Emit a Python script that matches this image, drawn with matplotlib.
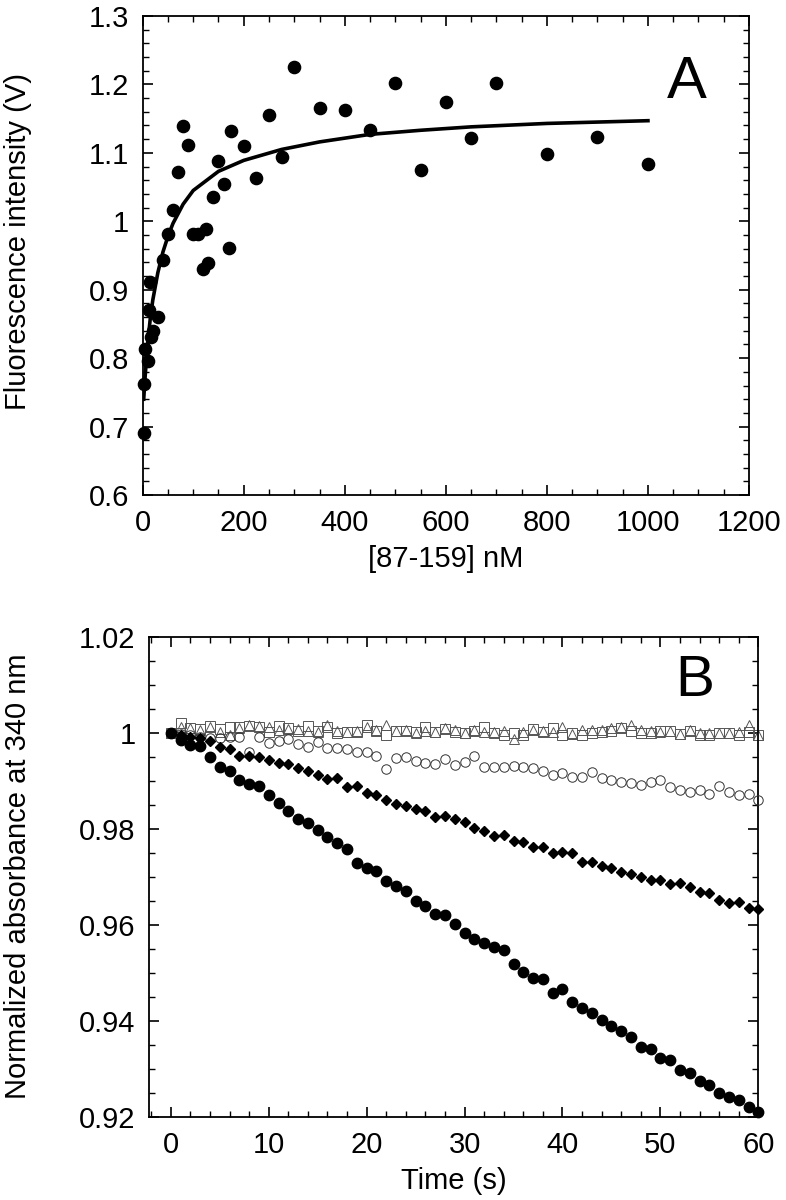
import matplotlib
matplotlib.use('Agg')
import matplotlib.pyplot as plt
from matplotlib.ticker import MultipleLocator, FuncFormatter

plt.rcParams['font.family'] = ['Liberation Sans', 'DejaVu Sans']

# ---------------- Panel A data ----------------
conc_nM = [3, 3, 5, 10, 13, 15, 16, 21, 30, 40,
           50, 60, 70, 80, 90, 100, 110, 120, 125, 130,
           140, 150, 160, 170, 175, 200, 225, 250, 275, 300,
           350, 400, 450, 500, 550, 600, 650, 700, 800, 900,
           1000]
fluor_V = [0.691, 0.762, 0.813, 0.796, 0.871, 0.911, 0.831, 0.840, 0.860, 0.944,
           0.981, 1.016, 1.072, 1.139, 1.112, 0.981, 0.981, 0.930, 0.989, 0.939,
           1.036, 1.088, 1.054, 0.961, 1.132, 1.110, 1.063, 1.155, 1.094, 1.226,
           1.166, 1.163, 1.134, 1.202, 1.075, 1.175, 1.122, 1.202, 1.099, 1.123,
           1.084]
fit_x = [2, 5, 10, 15, 20, 30, 40, 50, 60, 80, 100, 150, 200, 275, 350, 450, 550, 650, 800, 1000]
fit_y = [0.740, 0.775, 0.822, 0.858, 0.885, 0.925, 0.955, 0.978, 0.997, 1.025,
         1.045, 1.073, 1.089, 1.105, 1.116, 1.127, 1.133, 1.138, 1.143, 1.147]

# ---------------- Panel B data ----------------
time_s = list(range(0, 61))
filled_circles = [1.0, 0.99848, 0.99744, 0.9972, 0.99487, 0.99292, 0.99208, 0.99015, 0.98931, 0.98896,
                  0.98696, 0.98529, 0.98375, 0.98196, 0.98112, 0.97973, 0.97833, 0.97696, 0.97577, 0.97279,
                  0.97175, 0.97119, 0.9691, 0.96806, 0.96702, 0.96494, 0.96396, 0.96223, 0.96202, 0.96008,
                  0.9582, 0.9570, 0.9562, 0.9553, 0.9548, 0.95181, 0.95021, 0.94883, 0.94862, 0.94571,
                  0.94654, 0.94396, 0.94258, 0.94167, 0.94015, 0.93896, 0.93792, 0.93667, 0.93458, 0.93404,
                  0.93229, 0.93181, 0.92973, 0.92904, 0.9275, 0.92654, 0.92488, 0.92417, 0.92348, 0.92208,
                  0.92104]
filled_diamonds = [1.0, 0.9995, 0.9991, 0.99882, 0.99827, 0.99696, 0.9966, 0.99515, 0.99515, 0.995,
                   0.99431, 0.99362, 0.99341, 0.99258, 0.99208, 0.99119, 0.99029, 0.9905, 0.98862, 0.98896,
                   0.9875, 0.98702, 0.98598, 0.98508, 0.98479, 0.98404, 0.98375, 0.9825, 0.98271, 0.98202,
                   0.98146, 0.98008, 0.97958, 0.97848, 0.97869, 0.97744, 0.97729, 0.97625, 0.97625, 0.97487,
                   0.97508, 0.97487, 0.97313, 0.973, 0.97223, 0.97188, 0.97104, 0.9705, 0.96987, 0.96931,
                   0.96931, 0.96842, 0.96862, 0.96779, 0.96688, 0.96654, 0.96515, 0.96458, 0.96466, 0.96342,
                   0.96321]
open_circles = [1.0, 0.9998, 0.9995, 0.9992, 0.9990, 0.99882, 0.99917, 0.99917, 0.99591, 0.99917,
                0.99792, 0.99833, 0.99862, 0.99765, 0.99708, 0.99813, 0.99675, 0.99675, 0.99654, 0.99604,
                0.99604, 0.99521, 0.99244, 0.99466, 0.99487, 0.99417, 0.99362, 0.99341, 0.99446, 0.99327,
                0.99396, 0.99515, 0.99292, 0.99292, 0.99278, 0.99313, 0.99278, 0.99258, 0.99208, 0.99119,
                0.99167, 0.99083, 0.99083, 0.99175, 0.99063, 0.99015, 0.98979, 0.98958, 0.9891, 0.98966,
                0.99015, 0.98862, 0.98806, 0.98771, 0.98806, 0.98723, 0.9889, 0.98771, 0.98702, 0.98723,
                0.98598]
open_squares = [1.0, 1.0020, 1.0010, 1.0007, 1.0014, 1.0007, 1.0011, 1.0011, 1.0014, 1.0011,
                1.0002, 1.0014, 1.0009, 1.0004, 1.0014, 1.0004, 1.0011, 1.0000, 1.0002, 1.0002,
                1.0016, 1.0004, 0.9995, 1.0004, 1.0004, 1.0002, 1.0011, 1.0002, 1.0007, 1.0002,
                1.0000, 1.0004, 1.0011, 1.0000, 0.9995, 1.0000, 0.9995, 1.0007, 1.0002, 1.0009,
                0.9995, 1.0000, 0.9995, 1.0000, 1.0002, 1.0004, 1.0009, 1.0004, 1.0000, 1.0000,
                1.0004, 1.0004, 0.9997, 1.0004, 0.9995, 0.9995, 1.0000, 1.0000, 0.9995, 1.0002,
                0.9995]
open_triangles = [1.0, 1.0011, 1.0009, 1.0005, 1.0011, 1.0002, 0.9995, 1.0009, 1.0016, 1.0014,
                  1.0011, 1.0005, 1.0007, 1.0007, 1.0004, 1.0002, 1.0016, 1.0004, 1.0002, 1.0004,
                  1.0011, 1.0005, 1.0016, 1.0004, 1.0005, 1.0000, 1.0004, 1.0002, 1.0009, 1.0005,
                  1.0000, 1.0005, 1.0001, 1.0002, 1.0004, 0.9987, 1.0001, 1.0005, 1.0004, 1.0001,
                  1.0011, 0.9997, 1.0005, 1.0005, 1.0005, 1.0009, 1.0011, 1.0016, 1.0005, 1.0004,
                  1.0001, 1.0004, 0.9997, 1.0005, 0.9999, 0.9999, 0.9999, 1.0000, 1.0001, 1.0016,
                  0.9995]

# ---------------- Figure ----------------
W, H = 786, 1200
fig = plt.figure(figsize=(W / 100, H / 100), dpi=100)


def rect(l, t, r, b):
    return [l / W, 1 - b / H, (r - l) / W, (b - t) / H]


axA = fig.add_axes(rect(142.7, 16, 749, 495))
axB = fig.add_axes(rect(149.3, 636.7, 758.3, 1116.7))

fmt = FuncFormatter(lambda v, p: f'{round(v, 4):g}')
TICK_FS = 21
LABEL_FS = 21


def style(ax, xmaj, xmin, ymaj, ymin):
    ax.xaxis.set_major_locator(MultipleLocator(xmaj))
    ax.xaxis.set_minor_locator(MultipleLocator(xmin))
    ax.yaxis.set_major_locator(MultipleLocator(ymaj))
    ax.yaxis.set_minor_locator(MultipleLocator(ymin))
    ax.xaxis.set_major_formatter(fmt)
    ax.yaxis.set_major_formatter(fmt)
    ax.tick_params(which='both', direction='in', top=True, right=True, color='black')
    ax.tick_params(which='major', length=7.5, width=1.2, labelsize=TICK_FS, pad=10)
    ax.tick_params(which='minor', length=4, width=1.0)
    for s in ax.spines.values():
        s.set_linewidth(1.3)
        s.set_color('black')


# Panel A
axA.plot(fit_x, fit_y, color='black', lw=2.6, zorder=2)
axA.plot(conc_nM, fluor_V, 'o', color='black', ms=8.8, mec='black', zorder=3, clip_on=False)
axA.set_xlim(0, 1200)
axA.set_ylim(0.6, 1.3)
style(axA, 200, 50, 0.1, 0.02)
axA.set_xlabel('[87-159] nM', fontsize=LABEL_FS)
axA.set_ylabel('Fluorescence intensity (V)', fontsize=LABEL_FS)
axA.yaxis.set_label_coords(-0.183, 0.53)
axA.xaxis.set_label_coords(0.5, -0.104)
fig.text(686.7 / W, 1 - 82 / H, 'A', fontsize=43, ha='center', va='center')

# Panel B
axB.plot(time_s, open_squares, 's', ms=7, mfc='none', mec='#555555', mew=0.7, zorder=2, clip_on=False)
axB.plot(time_s, open_triangles, '^', ms=7.5, mfc='none', mec='#555555', mew=0.7, zorder=2, clip_on=False)
axB.plot(time_s, open_circles, 'o', ms=6.8, mfc='none', mec='#333333', mew=0.7, zorder=3, clip_on=False)
axB.plot(time_s, filled_diamonds, 'D', ms=5, color='black', zorder=4, clip_on=False)
axB.plot(time_s, filled_circles, 'o', ms=7.5, color='black', zorder=5, clip_on=False)
axB.set_xlim(-2.2, 60)
axB.set_ylim(0.92, 1.02)
style(axB, 10, 2, 0.02, 0.005)
axB.set_xlabel('Time (s)', fontsize=LABEL_FS)
axB.set_ylabel('Normalized absorbance at 340 nm', fontsize=LABEL_FS)
axB.yaxis.set_label_coords(-0.193, 0.5)
axB.xaxis.set_label_coords(0.5, -0.104)
fig.text(694.5 / W, 1 - 681 / H, 'B', fontsize=42, ha='center', va='center')

fig.savefig('out.png', dpi=100)
